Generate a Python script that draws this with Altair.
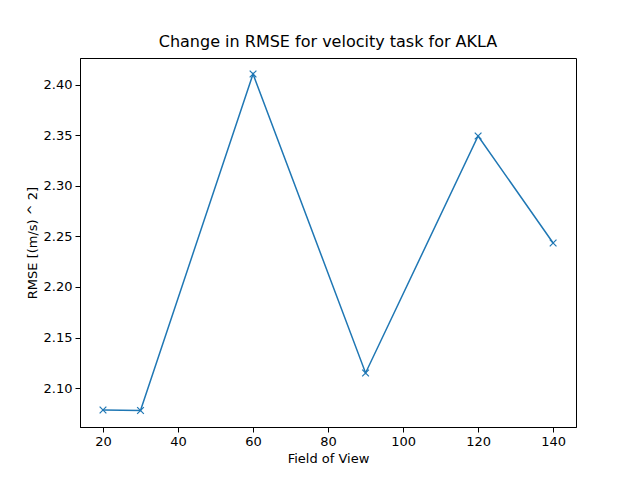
import altair as alt
import pandas as pd

fov = [20, 30, 60, 90, 120, 140]
rmse = [2.0782, 2.0777, 2.4109, 2.1149, 2.3495, 2.2436]
df = pd.DataFrame({"fov": fov, "rmse": rmse})

axis_style = dict(grid=False, tickColor="black", domainColor="black", labelColor="black",
                  titleColor="black", labelFontSize=13, titleFontSize=13,
                  titleFontWeight="normal", tickSize=5, labelPadding=3)

x = alt.X("fov:Q", title="Field of View",
          scale=alt.Scale(domain=[13.87, 146.1], nice=False, zero=False),
          axis=alt.Axis(values=[20, 40, 60, 80, 100, 120, 140], **axis_style))
y = alt.Y("rmse:Q", title="RMSE [(m/s) ^ 2]",
          scale=alt.Scale(domain=[2.0614, 2.4267], nice=False, zero=False),
          axis=alt.Axis(values=[2.10, 2.15, 2.20, 2.25, 2.30, 2.35, 2.40], format=".2f",
                        **axis_style))

base = alt.Chart(df).encode(x=x, y=y)
line = base.mark_line(color="#1f77b4", strokeWidth=1.5)
pts = base.mark_point(shape="M-1,-1L1,1M-1,1L1,-1", size=45, color="#1f77b4",
                      filled=False, strokeWidth=1.2, opacity=1)

chart = (line + pts).properties(
    width=496, height=369,
    title=alt.TitleParams("Change in RMSE for velocity task for AKLA", fontSize=16,
                          fontWeight="normal", color="black", offset=8),
    autosize=alt.AutoSizeParams(type="none"),
    padding={"left": 72, "top": 50, "right": 56, "bottom": 45},
).configure(font="DejaVu Sans").configure_view(stroke="black", strokeWidth=1)

chart.save("out.html", embed_options={"renderer": "svg", "actions": False})
